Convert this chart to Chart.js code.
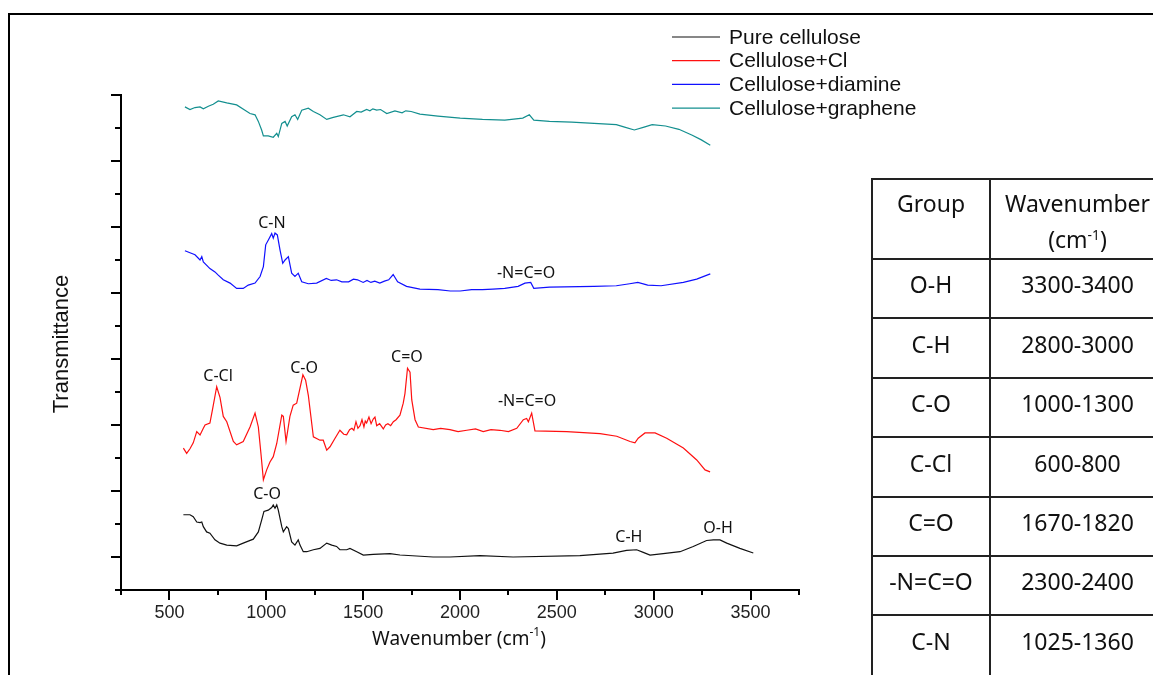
<!DOCTYPE html>
<html><head><meta charset="utf-8">
<script src="https://cdn.jsdelivr.net/npm/chart.js@4.4.1/dist/chart.umd.min.js"></script>
<style>
html,body{margin:0;padding:0;background:#fff;overflow:hidden;width:1153px;height:675px;position:relative;}
#frame{position:absolute;left:8px;top:13px;width:1300px;height:800px;border-top:2px solid #000;border-left:2px solid #000;}
#c{position:absolute;left:0;top:0;}
#tbl{position:absolute;left:871px;top:178px;width:293px;border-collapse:collapse;font-family:"Noto Sans",sans-serif;font-size:23px;color:#111;table-layout:fixed;}
#tbl td{border:2px solid #222;text-align:center;padding:0 0 8px 0;line-height:1.25;}
#tbl tr.hd td{vertical-align:top;padding:5px 0 0 0;line-height:36px;}
#tbl tr.last td{padding-bottom:12px;}
#tbl sup{font-size:60%;vertical-align:0.6em;line-height:0;}
</style></head>
<body>
<div id="frame"></div>
<canvas id="c" width="1153" height="675"></canvas>
<table id="tbl"><colgroup><col style="width:118px"><col style="width:175px"></colgroup><tbody id="tb"></tbody></table>
<script>
// ---------- data ----------
const seriesNames = ["Pure cellulose","Cellulose+Cl","Cellulose+diamine","Cellulose+graphene"];
const seriesColors = ["#111111","#ff1010","#1010ff","#138f8f"];

const xTickValues = [500,1000,1500,2000,2500,3000,3500];
const yTickValues = [0,1,2,3,4,5,6,7];

const pureX = [572,606,623,641,658,667,675,692,709,735,761,796,847,881,907,933,959,976,988,1010,1028,1036,1045,1054,1062,1080,1088,1105,1114,1131,1148,1165,1174,1191,1209,1243,1277,1312,1338,1363,1380,1415,1432,1467,1501,1552,1639,1690,1861,1948,2103,2274,2619,2790,2860,2912,2946,2981,3049,3136,3204,3273,3308,3342,3377,3445,3514];
const pureY = [0.64,0.64,0.61,0.53,0.52,0.53,0.46,0.38,0.36,0.26,0.21,0.18,0.17,0.21,0.24,0.27,0.38,0.56,0.69,0.71,0.75,0.79,0.74,0.79,0.71,0.46,0.38,0.46,0.43,0.23,0.18,0.26,0.18,0.08,0.08,0.11,0.13,0.21,0.18,0.16,0.11,0.11,0.13,0.08,0.03,0.04,0.05,0.03,0.00,0.00,0.02,0.00,0.02,0.06,0.10,0.11,0.07,0.03,0.05,0.08,0.16,0.25,0.26,0.26,0.21,0.13,0.06];

const clX = [572,589,606,623,641,658,675,684,709,722,744,761,778,796,830,847,881,916,942,959,973,985,1002,1019,1036,1054,1080,1088,1102,1122,1139,1157,1174,1189,1203,1217,1243,1277,1294,1312,1329,1355,1380,1400,1415,1430,1442,1452,1463,1473,1484,1494,1504,1511,1518,1530,1541,1552,1561,1570,1585,1604,1616,1628,1642,1656,1670,1690,1707,1716,1729,1742,1751,1768,1785,1862,1900,1948,1990,2035,2080,2120,2160,2206,2250,2293,2327,2344,2353,2370,2387,2551,2723,2809,2878,2903,2920,2955,3007,3067,3153,3222,3265,3291];
const clY = [1.65,1.57,1.64,1.73,1.90,1.85,1.95,2.00,2.03,2.23,2.58,2.42,2.13,2.05,1.75,1.70,1.75,1.97,2.18,1.97,1.55,1.17,1.32,1.44,1.52,1.72,2.15,2.13,1.75,2.13,2.30,2.33,2.56,2.76,2.68,2.45,1.82,1.77,1.77,1.62,1.67,1.80,1.92,1.86,1.85,1.93,1.95,1.92,2.05,1.95,1.99,2.08,1.97,2.06,2.03,2.12,2.02,2.09,2.12,1.99,2.02,1.94,2.00,2.02,1.99,2.05,2.08,2.15,2.33,2.48,2.86,2.80,2.38,2.08,1.97,1.93,1.95,1.93,1.90,1.92,1.94,1.90,1.93,1.92,1.90,1.95,2.08,2.10,2.05,2.18,1.91,1.90,1.87,1.83,1.75,1.73,1.80,1.88,1.88,1.80,1.65,1.47,1.32,1.29];

const diamineX = [580,606,632,658,667,675,709,735,752,778,813,847,881,907,942,968,985,997,1010,1028,1036,1045,1057,1071,1085,1097,1114,1131,1148,1165,1183,1217,1260,1310,1335,1363,1390,1425,1450,1471,1500,1520,1540,1560,1586,1610,1632,1655,1678,1724,1793,1886,1950,2001,2060,2116,2170,2231,2300,2335,2365,2381,2462,2692,2807,2876,2918,2969,3038,3153,3222,3292];
const diamineY = [4.64,4.61,4.58,4.50,4.55,4.47,4.37,4.32,4.27,4.20,4.15,4.07,4.07,4.12,4.15,4.25,4.40,4.73,4.80,4.90,4.83,4.91,4.88,4.65,4.45,4.50,4.55,4.30,4.25,4.30,4.17,4.14,4.15,4.22,4.19,4.20,4.17,4.17,4.21,4.20,4.16,4.19,4.16,4.18,4.15,4.18,4.20,4.28,4.17,4.10,4.06,4.05,4.03,4.03,4.05,4.05,4.06,4.07,4.10,4.15,4.16,4.07,4.09,4.10,4.11,4.14,4.16,4.12,4.11,4.16,4.21,4.29];

const grapheneX = [580,606,632,658,675,701,726,752,796,847,890,916,942,959,976,985,1010,1036,1054,1062,1080,1097,1108,1131,1148,1162,1183,1217,1243,1277,1312,1346,1398,1432,1467,1490,1518,1535,1550,1570,1590,1622,1664,1701,1720,1748,1793,1886,2001,2116,2231,2324,2358,2381,2462,2577,2692,2807,2854,2900,2946,2992,3061,3130,3199,3246,3292];
const grapheneY = [6.82,6.78,6.81,6.82,6.79,6.83,6.86,6.91,6.88,6.85,6.77,6.72,6.70,6.60,6.47,6.38,6.38,6.36,6.42,6.37,6.57,6.60,6.53,6.67,6.70,6.63,6.77,6.80,6.75,6.70,6.63,6.66,6.70,6.67,6.75,6.74,6.78,6.76,6.79,6.77,6.78,6.72,6.76,6.73,6.76,6.75,6.71,6.68,6.65,6.63,6.62,6.65,6.70,6.62,6.60,6.59,6.57,6.55,6.51,6.47,6.51,6.55,6.53,6.48,6.39,6.32,6.24];

const annoLabels = ["C-Cl","C-O","C=O","-N=C=O","C-O","C-H","O-H","C-N","-N=C=O"];
const annoX = [751,1195,1726,2346,1004,2872,3332,1029,2341];
const annoY = [2.74,2.86,3.03,2.35,0.95,0.30,0.44,5.05,4.30];

const tableGroups = ["O-H","C-H","C-O","C-Cl","C=O","-N=C=O","C-N"];
const tableRanges = ["3300-3400","2800-3000","1000-1300","600-800","1670-1820","2300-2400","1025-1360"];

const xAxisTitle = "Wavenumber (cm";
const xAxisSup = "-1";
const yAxisTitle = "Transmittance";

// ---------- table ----------
const rowH = [59,60,59,60,59,59,64];
const tb = document.getElementById('tb');
let h = '<tr class="hd" style="height:80px"><td>Group</td><td>Wavenumber<br>(cm<sup>-1</sup>)</td></tr>';
tableGroups.forEach((g,i)=>{ h += '<tr'+(i===tableGroups.length-1?' class="last"':'')+' style="height:'+rowH[i]+'px"><td>'+g+'</td><td>'+tableRanges[i]+'</td></tr>'; });
tb.innerHTML = h;

// ---------- chart ----------
const xs = [pureX, clX, diamineX, grapheneX];
const ys = [pureY, clY, diamineY, grapheneY];
const datasets = seriesNames.map((n,i)=>({
  label:n,
  data: xs[i].map((x,j)=>({x:x, y:ys[i][j]})),
  borderColor: seriesColors[i],
  borderWidth: 1.2,
  pointRadius: 0,
  tension: 0,
  fill: false
}));

const decor = {
  id:'decor',
  afterDraw(chart){
    const ctx = chart.ctx, x = chart.scales.x, y = chart.scales.y, a = chart.chartArea;
    ctx.save();
    // minor ticks
    ctx.strokeStyle = '#000'; ctx.lineWidth = 2;
    for (let v = x.min; v <= x.max + 1e-6; v += 250) {
      if (v % 500 === 0) continue;
      const px = Math.round(x.getPixelForValue(v));
      ctx.beginPath(); ctx.moveTo(px, a.bottom); ctx.lineTo(px, a.bottom + 5); ctx.stroke();
    }
    for (let v = y.min; v <= y.max + 1e-6; v += 0.5) {
      if (Math.abs(v - Math.round(v)) < 1e-6) continue;
      const py = Math.round(y.getPixelForValue(v));
      ctx.beginPath(); ctx.moveTo(a.left, py); ctx.lineTo(a.left - 6, py); ctx.stroke();
    }
    // annotations
    ctx.fillStyle = '#111';
    ctx.font = '16px "Noto Sans"';
    ctx.textAlign = 'center'; ctx.textBaseline = 'middle';
    annoLabels.forEach((t,i)=> ctx.fillText(t, x.getPixelForValue(annoX[i]), y.getPixelForValue(annoY[i])));
    // legend
    ctx.font = '21px "Liberation Sans"';
    ctx.textAlign = 'left';
    chart.data.datasets.forEach((d,i)=>{
      const ly = 37 + i*23.7;
      ctx.strokeStyle = d.borderColor; ctx.lineWidth = 1.2;
      ctx.beginPath(); ctx.moveTo(672, ly); ctx.lineTo(720, ly); ctx.stroke();
      ctx.fillStyle = '#111';
      ctx.fillText(d.label, 729, ly + 1);
    });
    // x title
    ctx.fillStyle = '#111';
    ctx.font = '19px "Noto Sans"';
    const w1 = ctx.measureText(xAxisTitle).width;
    ctx.font = '12px "Noto Sans"';
    const w2 = ctx.measureText(xAxisSup).width;
    ctx.font = '19px "Noto Sans"';
    const w3 = ctx.measureText(')').width;
    const total = w1 + w2 + w3;
    let sx = 459 - total/2;
    ctx.textBaseline = 'alphabetic';
    ctx.fillText(xAxisTitle, sx, 645);
    ctx.font = '12px "Noto Sans"';
    ctx.fillText(xAxisSup, sx + w1, 636);
    ctx.font = '19px "Noto Sans"';
    ctx.fillText(')', sx + w1 + w2, 645);
    // y title
    ctx.translate(62, 344);
    ctx.rotate(-Math.PI/2);
    ctx.textAlign = 'center'; ctx.textBaseline = 'middle';
    ctx.font = '22px "Liberation Sans"';
    ctx.fillText(yAxisTitle, 0, 0);
    ctx.restore();
  }
};

new Chart(document.getElementById('c'), {
  type:'line',
  data:{datasets},
  options:{
    responsive:false, animation:false, devicePixelRatio:1,
    layout:{padding:{left:0, top:95, right:354, bottom:0}},
    plugins:{legend:{display:false}, tooltip:{enabled:false}, title:{display:false}},
    scales:{
      x:{type:'linear', min:250, max:3750,
         afterBuildTicks(s){ s.ticks = xTickValues.map(v=>({value:v})); },
         ticks:{autoSkip:false, maxRotation:0, padding:2, callback:(v)=>String(v),
                color:'#222', font:{family:'Liberation Sans', size:18}},
         grid:{drawOnChartArea:false, drawTicks:true, tickLength:10, color:'#000', lineWidth:2},
         border:{display:true, color:'#000', width:2},
         afterFit(s){ s.height = 85; }},
      y:{type:'linear', min:-0.5, max:7,
         afterBuildTicks(s){ s.ticks = yTickValues.map(v=>({value:v})); },
         ticks:{callback:()=>'', padding:0},
         grid:{drawOnChartArea:false, drawTicks:true, tickLength:10, color:'#000', lineWidth:2},
         border:{display:true, color:'#000', width:2},
         afterFit(s){ s.width = 121; }}
    }
  },
  plugins:[decor]
});
</script>
</body></html>
